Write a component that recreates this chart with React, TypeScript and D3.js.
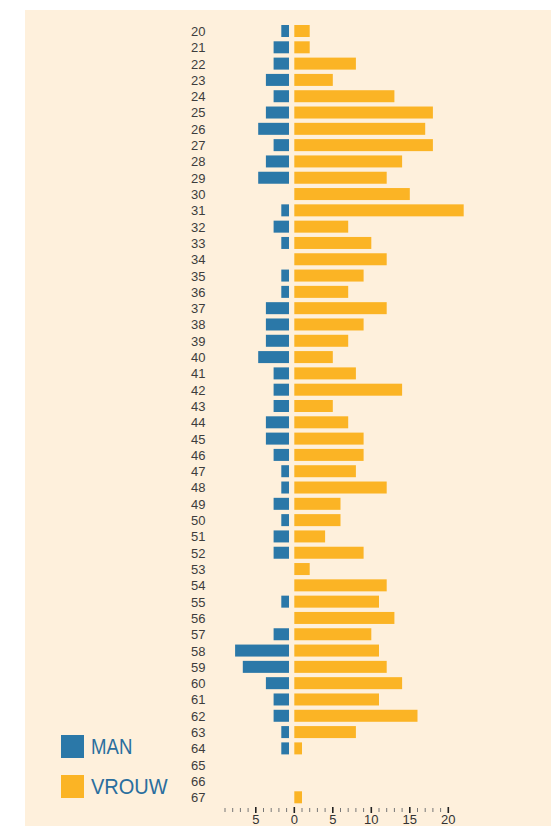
import React from "react";
import * as d3 from "d3";

const ages: number[] = d3.range(20, 68);
const man: number[] = [
  1, 2, 2, 3, 2, 3, 4, 2, 3, 4, 0, 1, 2, 1, 0, 1, 1, 3, 3, 3, 4, 2, 2, 2, 3, 3, 2, 1, 1, 2, 1, 2, 2, 0, 0, 1, 0, 2, 7, 6, 3, 2, 2, 1, 1, 0, 0, 0,
];
const vrouw: number[] = [
  2, 2, 8, 5, 13, 18, 17, 18, 14, 12, 15, 22, 7, 10, 12, 9, 7, 12, 9, 7, 5, 8, 14, 5, 7, 9, 9, 8, 12, 6, 6, 4, 9, 2, 12, 11, 13, 10, 11, 12, 14, 11, 16, 8, 1, 0, 0, 1,
];
const tickValues: number[] = d3.range(-9, 21);
const majorTicks: number[] = [-5, 0, 5, 10, 15, 20];
const legendLabels: string[] = ["MAN", "VROUW"];

const BLUE = "#2b78a8";
const ORANGE = "#fbb425";
const BG = "#fef0dc";

export default function App() {
  const x = d3.scaleLinear().domain([-9, 20]).range([225, 448.3]);
  const y = d3
    .scaleBand<number>()
    .domain(ages)
    .range([22.85, 805.45])
    .paddingInner(0.264)
    .paddingOuter(0.132);
  const bw = y.bandwidth();
  const zero = x(0);
  const gap = 5.3;

  return (
    <svg
      width={551}
      height={826}
      style={{ position: "absolute", left: 0, top: 0, display: "block" }}
    >
      <rect x={0} y={0} width={551} height={826} fill="#ffffff" />
      <rect x={25} y={10} width={526} height={816} fill={BG} />
      {ages.map((a, i) => {
        const yy = y(a)!;
        return (
          <g key={a}>
            <text
              x={191}
              y={yy + bw / 2}
              dy="0.38em"
              fontFamily="Liberation Sans, Arial, sans-serif"
              fontSize={13}
              fill="#3d3d3d"
            >
              {a}
            </text>
            {man[i] > 0 && (
              <rect
                x={zero - gap - (zero - x(-man[i]))}
                y={yy}
                width={zero - x(-man[i])}
                height={bw}
                fill={BLUE}
              />
            )}
            {vrouw[i] > 0 && (
              <rect
                x={zero}
                y={yy}
                width={x(vrouw[i]) - zero}
                height={bw}
                fill={ORANGE}
              />
            )}
          </g>
        );
      })}
      {tickValues.map((t) => {
        const major = majorTicks.includes(t);
        return (
          <line
            key={t}
            x1={x(t)}
            x2={x(t)}
            y1={major ? 807 : 808}
            y2={major ? 813 : 812}
            stroke={major ? "#222" : "#777"}
            strokeWidth={major ? 1.6 : 1}
          />
        );
      })}
      {majorTicks.map((t) => (
        <text
          key={t}
          x={x(t)}
          y={824}
          textAnchor="middle"
          fontFamily="Liberation Sans Narrow, Liberation Sans, Arial, sans-serif"
          fontSize={13}
          fill="#333"
        >
          {Math.abs(t)}
        </text>
      ))}
      {legendLabels.map((l, i) => (
        <g key={l}>
          <rect
            x={61}
            y={735 + i * 40}
            width={23}
            height={23}
            fill={i === 0 ? BLUE : ORANGE}
          />
          <text
            x={91}
            y={754.3 + i * 40}
            fontFamily="Liberation Sans, Arial, sans-serif"
            fontSize={22}
            fill="#2a6e9e"
            textLength={i === 0 ? 41.3 : 76.7}
            lengthAdjust="spacingAndGlyphs"
          >
            {l}
          </text>
        </g>
      ))}
    </svg>
  );
}
